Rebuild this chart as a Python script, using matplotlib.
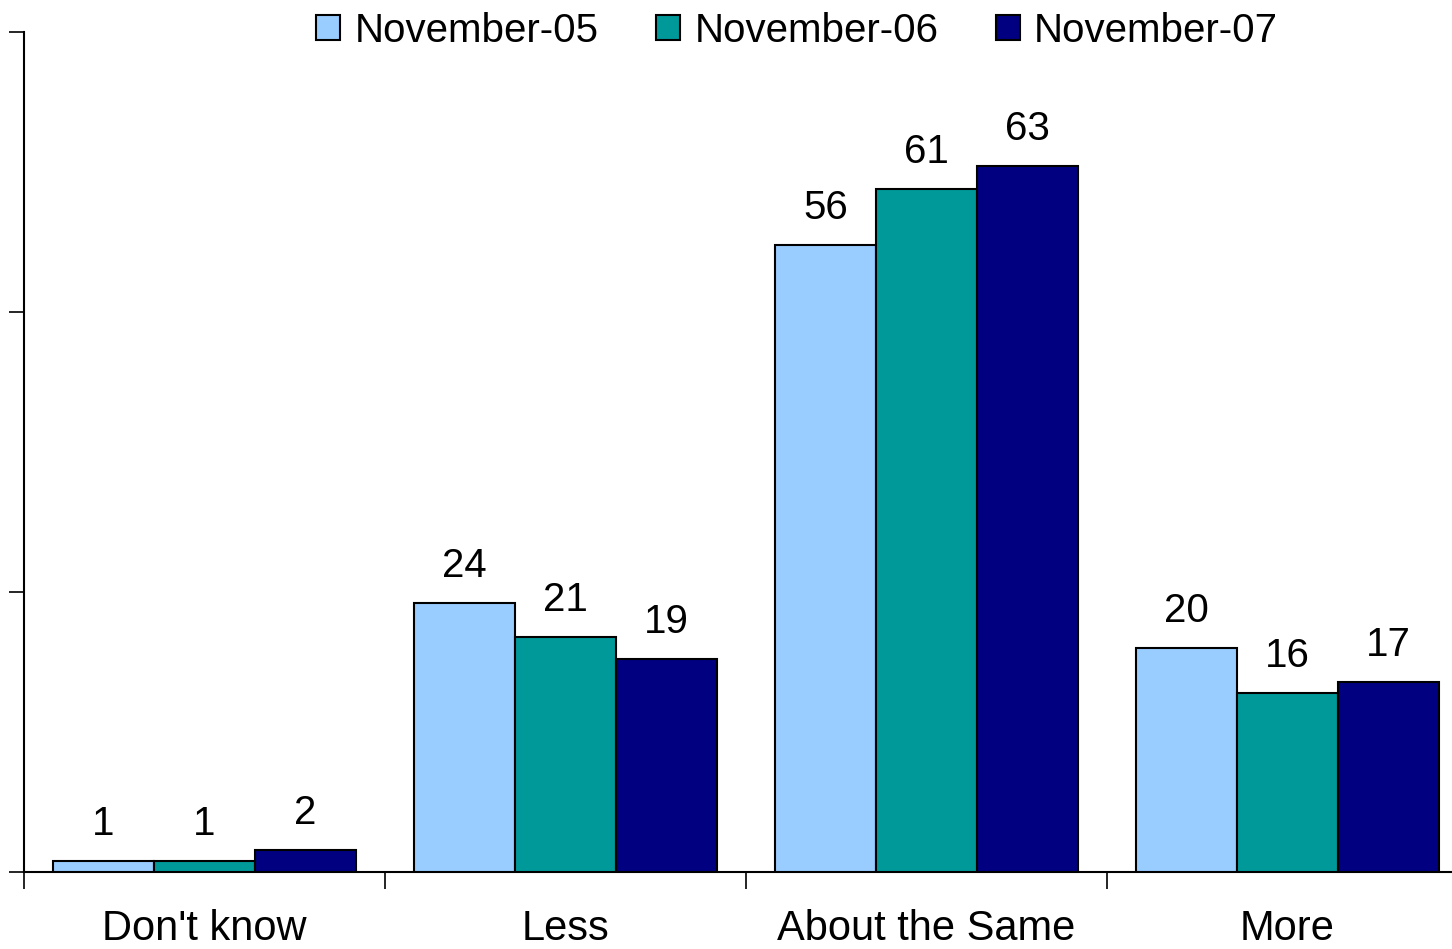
import matplotlib
matplotlib.use("Agg")
import matplotlib.pyplot as plt
import numpy as np

categories = ["Don't know", "Less", "About the Same", "More"]
series_names = ["November-05", "November-06", "November-07"]
nov05 = [1, 24, 56, 20]
nov06 = [1, 21, 61, 16]
nov07 = [2, 19, 63, 17]
colors = ["#99CCFF", "#009999", "#000080"]

plt.rcParams["font.family"] = ["Liberation Sans", "DejaVu Sans"]

fig = plt.figure(figsize=(14.52, 9.49), dpi=100)
# the plot area runs slightly past the right edge of the figure
ax = fig.add_axes([24 / 1452, 77 / 949, 1444 / 1452, 840 / 949])

x = np.arange(len(categories))
width = 0.28
offsets = [-width, 0, width]
for vals, name, col, off in zip([nov05, nov06, nov07], series_names, colors, offsets):
    bars = ax.bar(x + off, vals, width, color=col, edgecolor="black",
                  linewidth=1.5, label=name, zorder=3)
    for b, v in zip(bars, vals):
        ax.annotate(str(v), (b.get_x() + b.get_width() / 2, v),
                    xytext=(0, 13), textcoords="offset points",
                    ha="center", va="bottom", fontsize=29)

ax.set_xlim(-0.5, 3.5)
ax.set_ylim(0, 75)
ax.set_yticks([0, 25, 50, 75])
ax.set_yticklabels([])
ax.set_xticks([-0.5, 0.5, 1.5, 2.5, 3.5])
ax.set_xticklabels([])
ax.set_xticks(x, minor=True)
ax.set_xticklabels(categories, minor=True, fontsize=30)
ax.tick_params(axis="x", which="minor", length=0, pad=27)
ax.tick_params(axis="x", which="major", direction="out", length=12, width=1.2)
ax.tick_params(axis="y", direction="out", length=11, width=1.2)

for s in ["top", "right"]:
    ax.spines[s].set_visible(False)
ax.spines["left"].set_linewidth(1.5)
ax.spines["bottom"].set_linewidth(1.5)

leg = fig.legend(loc="upper center", bbox_to_anchor=(0.549, 1.026), ncol=3,
                 frameon=False, fontsize=29, handlelength=0.6, handleheight=0.6,
                 handletextpad=0.35, columnspacing=1.43)

fig.savefig("out.png", dpi=100)
